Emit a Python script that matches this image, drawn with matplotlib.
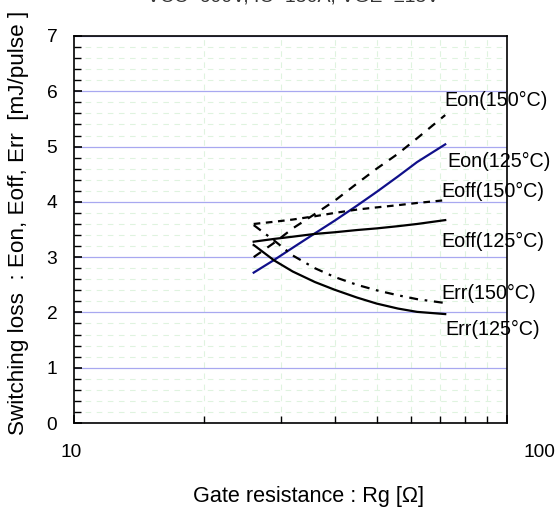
import matplotlib
matplotlib.use("Agg")
import matplotlib.pyplot as plt
import matplotlib.transforms as mtransforms
from matplotlib.ticker import FixedLocator, NullFormatter, MultipleLocator

plt.rcParams["font.family"] = ["Liberation Sans", "DejaVu Sans"]

# Gate resistance [ohm]
rg = [26, 29, 32, 36, 40, 45, 50, 56, 62, 72]

# switching losses [mJ/pulse]
eon_125 = [2.72, 2.95, 3.17, 3.43, 3.66, 3.93, 4.18, 4.46, 4.72, 5.04]
eon_150 = [3.00, 3.26, 3.52, 3.78, 4.02, 4.33, 4.60, 4.87, 5.15, 5.57]
eoff_125 = [3.28, 3.33, 3.37, 3.42, 3.45, 3.49, 3.52, 3.56, 3.60, 3.67]
eoff_150 = [3.60, 3.64, 3.68, 3.74, 3.80, 3.86, 3.90, 3.94, 3.98, 4.03]
err_125 = [3.22, 2.94, 2.74, 2.55, 2.41, 2.27, 2.16, 2.07, 2.01, 1.97]
err_150 = [3.58, 3.30, 3.03, 2.80, 2.64, 2.50, 2.40, 2.31, 2.24, 2.17]

labels = ["Eon(150°C)", "Eon(125°C)", "Eoff(150°C)", "Eoff(125°C)", "Err(150°C)", "Err(125°C)"]

W, H = 559, 509
fig = plt.figure(figsize=(W / 100, H / 100), dpi=100)
ax = fig.add_axes([74 / W, 1 - 423 / H, 433 / W, 387 / H])

ax.plot(rg, eon_125, color="#10108a", lw=1.6)
ax.plot(rg, eon_150, color="black", lw=1.6, dashes=(4, 3.5))
ax.plot(rg, eoff_125, color="black", lw=1.6)
ax.plot(rg, eoff_150, color="black", lw=1.6, dashes=(3, 2.5))
ax.plot(rg, err_125, color="black", lw=1.6)
ax.plot(rg, err_150, color="black", lw=1.6, dashes=(4, 3, 1.2, 3))

ax.set_xscale("log")
ax.set_xlim(10, 100)
ax.set_ylim(0, 7)
ax.xaxis.set_major_locator(FixedLocator([10, 100]))
ax.xaxis.set_minor_locator(FixedLocator([20, 30, 40, 50, 60, 70, 80, 90]))
ax.xaxis.set_minor_formatter(NullFormatter())
ax.set_xticklabels(["10", "100"])
ax.yaxis.set_major_locator(MultipleLocator(1))
ax.yaxis.set_minor_locator(MultipleLocator(0.2))

ax.grid(which="minor", color="#dff3df", lw=0.8, dashes=(5, 5))
ax.grid(which="major", axis="y", color="#a8a8f0", lw=0.9)
ax.set_axisbelow(True)

ax.tick_params(which="both", direction="in", top=False, right=False, labelsize=13.8)
ax.tick_params(which="major", length=6, width=1.2)
ax.tick_params(which="minor", length=5, width=1.0)
ax.tick_params(axis="x", pad=15)
ax.tick_params(axis="y", pad=12)
for s in ax.spines.values():
    s.set_linewidth(1.2)

# the x tick labels sit a little off their ticks in the original
for lbl, dx in zip(ax.get_xticklabels(), [-3, 32]):
    lbl.set_transform(lbl.get_transform() + mtransforms.ScaledTranslation(dx / 100, 0, fig.dpi_scale_trans))

ax.set_xlabel("Gate resistance : Rg [Ω]", fontsize=15.6, va="center")
ax.xaxis.set_label_coords(0.5416, -0.191)
ax.set_ylabel("Switching loss  : Eon, Eoff, Err  [mJ/pulse ]", fontsize=16.2, va="center")
ax.yaxis.set_label_coords(-0.129, 0.518)

lab_x = [71.8, 72.8, 70.6, 70.6, 70.6, 71.9]
lab_y = [5.84, 4.73, 4.18, 3.28, 2.35, 1.69]
for t, x, y in zip(labels, lab_x, lab_y):
    ax.text(x, y, t, fontsize=14.2, ha="left", va="center", clip_on=False)

fig.text(293 / W, 1 - 1.5 / H, "VCC=600V, IC=150A, VGE=±15V", fontsize=14,
         ha="center", va="baseline", color="#333333")

fig.savefig("out.png", dpi=100)
